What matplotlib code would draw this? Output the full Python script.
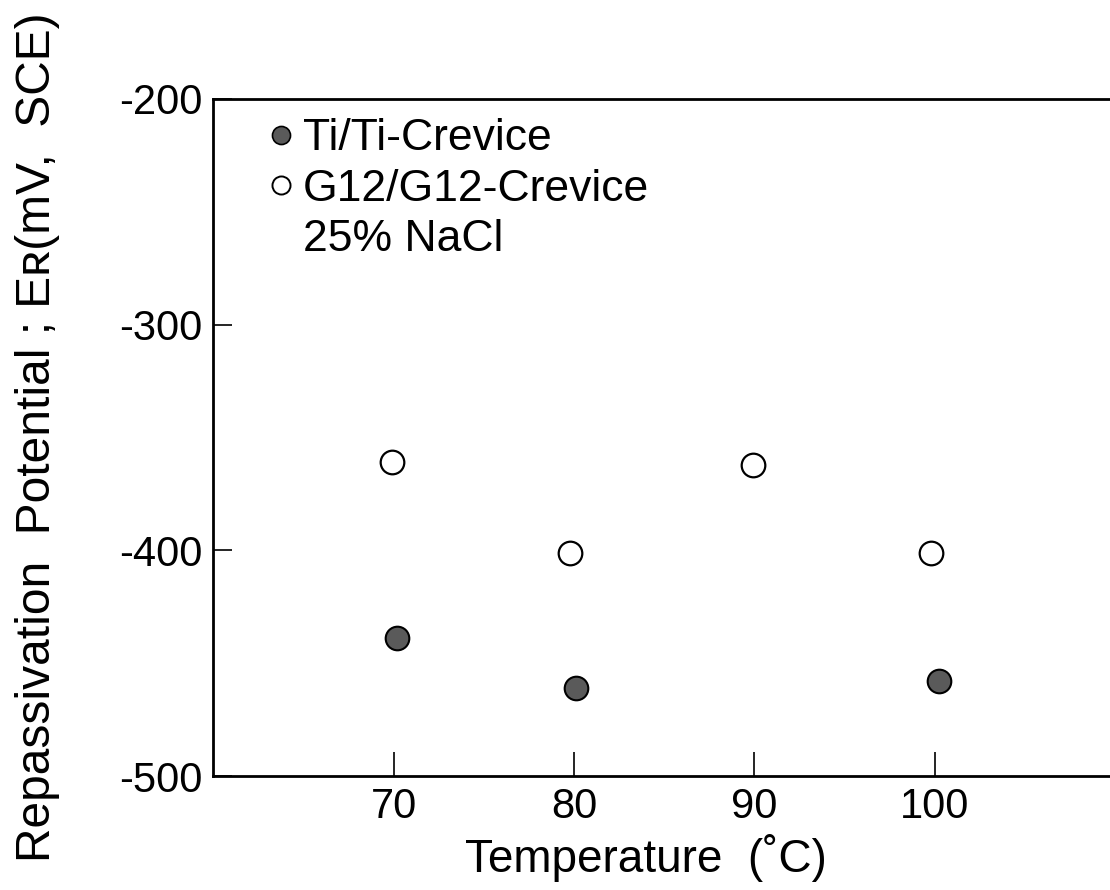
import matplotlib.pyplot as plt
from matplotlib.lines import Line2D

# Repassivation potential vs temperature, 25% NaCl
ti_temp = [70.2, 80.1, 100.2]
ti_er = [-439, -461, -458]

g12_temp = [69.9, 79.8, 89.9, 99.8]
g12_er = [-361, -401, -362, -401]

x_ticks = [70, 80, 90, 100]
y_ticks = [-200, -300, -400, -500]

text_font = ['Liberation Sans', 'DejaVu Sans']

fig = plt.figure(figsize=(11.1, 8.9), dpi=100)
ax = fig.add_axes([0.192, 0.128, 0.808, 0.761])

ax.scatter(ti_temp, ti_er, s=17**2, facecolor='#5a5a5a', edgecolor='black', linewidths=1.5, zorder=3)
ax.scatter(g12_temp, g12_er, s=17**2, facecolor='white', edgecolor='black', linewidths=1.6, zorder=3)

ax.set_xlim(60, 109.7)
ax.set_ylim(-500, -200)
ax.set_xticks(x_ticks)
ax.set_yticks(y_ticks)
ax.set_xticklabels([str(t) for t in x_ticks], family=text_font, fontsize=30)
ax.set_yticklabels(['-%d' % abs(t) for t in y_ticks], family=text_font, fontsize=30)
ax.tick_params(axis='x', direction='in', length=17, width=1.2, pad=8)
ax.tick_params(axis='y', direction='in', length=14, width=1.2, pad=8)

for side in ['left', 'bottom', 'top']:
    ax.spines[side].set_linewidth(2)
ax.spines['right'].set_visible(False)

ax.set_xlabel('Temperature  (\u02daC)', family=text_font, fontsize=33)
ax.xaxis.set_label_coords(0.483, -0.085)
ax.set_ylabel('Repassivation  Potential ; E\u0280(mV,  SCE)', family=text_font, fontsize=34.5)
ax.yaxis.set_label_coords(-0.171, 0.5)

handles = [
    Line2D([], [], marker='o', linestyle='none', markersize=13, markerfacecolor='#5a5a5a',
           markeredgecolor='black', markeredgewidth=1.2),
    Line2D([], [], marker='o', linestyle='none', markersize=13, markerfacecolor='white',
           markeredgecolor='black', markeredgewidth=1.4),
    Line2D([], [], linestyle='none'),
]
labels = ['Ti/Ti-Crevice', 'G12/G12-Crevice', '25% NaCl']
ax.legend(handles, labels, loc='upper left', frameon=False, prop={'family': text_font, 'size': 32},
          handlelength=0.5, handletextpad=0.25, labelspacing=0.21, borderaxespad=0, borderpad=0,
          bbox_to_anchor=(0.063, 0.971))

fig.savefig('out.png', dpi=100)
